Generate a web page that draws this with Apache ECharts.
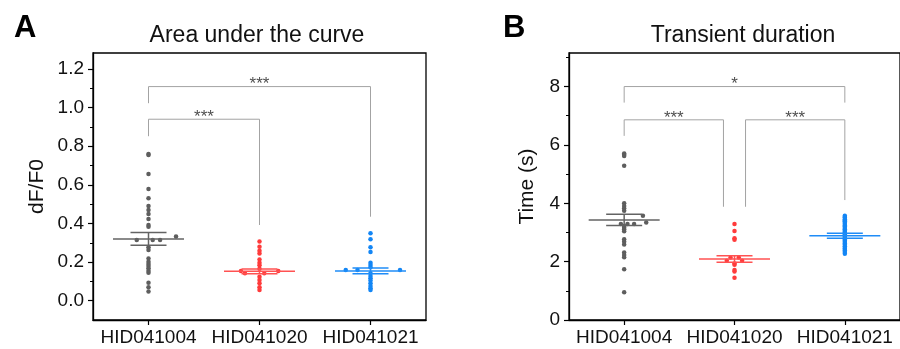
<!DOCTYPE html>
<html><head><meta charset="utf-8">
<script src="https://cdn.jsdelivr.net/npm/echarts@6/dist/echarts.min.js"></script>
<style>html,body{margin:0;padding:0;background:#fff}#c{width:900px;height:349px}</style>
</head><body><div id="c"></div>
<script>
// ---------- DATA ----------
const categories = ['HID041004', 'HID041020', 'HID041021'];

// Panel A: Area under the curve (dF/F0)
const aucHID041004 = [0.760, 0.755, 0.656, 0.579, 0.530, 0.490, 0.470, 0.449, 0.423, 0.392, 0.383, 0.277, 0.263, 0.218, 0.202, 0.190, 0.180, 0.168, 0.155, 0.145, 0.093, 0.069, 0.047, 0.314, 0.314, 0.314, 0.332];
const aucHID041004Jitter = [0,0,0,0,0,0,0,0,0,0,0,0,0,0,0,0,0,0,0,0,0,0,0, -0.106, 0.038, 0.104, 0.248];
const aucHID041020 = [0.306, 0.280, 0.259, 0.245, 0.214, 0.197, 0.184, 0.165, 0.124, 0.107, 0.090, 0.069, 0.055, 0.154, 0.154, 0.142, 0.142];
const aucHID041020Jitter = [0,0,0,0,0,0,0,0,0,0,0,0,0, -0.167, 0.169, -0.131, 0.043];
const aucHID041021 = [0.349, 0.318, 0.277, 0.252, 0.197, 0.185, 0.173, 0.142, 0.128, 0.116, 0.104, 0.090, 0.076, 0.064, 0.055, 0.159, 0.159, 0.159];
const aucHID041021Jitter = [0,0,0,0,0,0,0,0,0,0,0,0,0,0,0, -0.223, -0.117, 0.266];
const aucMean = [0.320, 0.152, 0.154];
const aucSem = [0.033, 0.012, 0.015];
const aucTicks = [0.0, 0.2, 0.4, 0.6, 0.8, 1.0, 1.2];
const aucMinorTicks = [0.1, 0.3, 0.5, 0.7, 0.9, 1.1];
const aucBrackets = [
  {from: 0, to: 1, top: 0.94, leftEnd: 0.852, rightEnd: 0.392, label: '***'},
  {from: 0, to: 2, top: 1.109, leftEnd: 1.023, rightEnd: 0.435, label: '***'}
];

// Panel B: Transient duration (s)
const durHID041004 = [5.71, 5.66, 5.62, 5.29, 4.00, 3.91, 3.83, 3.74, 3.22, 3.16, 3.11, 3.04, 2.77, 2.68, 2.59, 2.31, 2.23, 2.15, 1.74, 0.95, 3.57, 3.34, 3.29, 3.29, 3.29];
const durHID041004Jitter = [0,0,0,0,0,0,0,0,0,0,0,0,0,0,0,0,0,0,0,0, 0.17, 0.20, -0.03, 0.03, 0.09];
const durHID041020 = [3.29, 3.05, 2.80, 2.75, 1.94, 1.89, 1.71, 1.66, 1.45, 2.14, 2.14, 2.03, 2.03];
const durHID041020Jitter = [0,0,0,0,0,0,0,0,0, -0.036, 0.039, -0.07, 0.069];
const durHID041021 = [3.57, 3.53, 3.50, 3.45, 3.41, 3.38, 3.33, 3.29, 3.24, 3.20, 3.15, 3.11, 3.06, 3.02, 2.98, 2.93, 2.90, 2.85, 2.81, 2.76, 2.72, 2.67, 2.62, 2.58, 2.53, 2.47, 2.43, 2.38, 2.33, 2.27];
const durHID041021Jitter = durHID041021.map(() => 0);
const durMean = [3.43, 2.09, 2.89];
const durSem = [0.19, 0.11, 0.085];
const durTicks = [0, 2, 4, 6, 8];
const durMinorTicks = [1, 3, 5, 7, 9];
const durBrackets = [
  {from: 0, to: 2, top: 8.0, leftEnd: 7.45, rightEnd: 7.45, label: '*'},
  {from: 0, to: 0.9, top: 6.86, leftEnd: 6.31, rightEnd: 3.88, label: '***'},
  {from: 1.1, to: 2, top: 6.86, leftEnd: 3.88, rightEnd: 4.11, label: '***'}
];

// ---------- STYLE ----------
const FONT = '"Liberation Sans", Arial, sans-serif';
const dotColors = ['#5e5e5e', '#ff3b3b', '#1386f5'];
const lineColors = ['#636363', '#ff5252', '#1f8cf7'];
const AX = '#000';

function yAxes(gi, min, max, ticks, minor, fmt, name, nameGap) {
  return [
    {type: 'value', gridIndex: gi, min: min, max: max, position: 'left',
     axisLine: {show: true, onZero: false, lineStyle: {color: AX, width: 1.3}},
     axisTick: {show: true, length: 5, inside: false, customValues: ticks, lineStyle: {color: AX, width: 1.2}},
     axisLabel: {customValues: ticks, formatter: fmt, fontSize: 19, color: '#111', margin: 9, fontFamily: FONT},
     splitLine: {show: false},
     name: name, nameLocation: 'middle', nameGap: nameGap,
     nameTextStyle: {fontSize: 21, color: '#111', fontFamily: FONT}},
    {type: 'value', gridIndex: gi, min: min, max: max, position: 'left',
     axisLine: {show: false, onZero: false},
     axisTick: {show: true, length: 3, inside: false, customValues: minor, lineStyle: {color: AX, width: 1}},
     axisLabel: {show: false}, splitLine: {show: false}}
  ];
}
function xAxes(gi) {
  return [
    {type: 'category', gridIndex: gi, data: categories, boundaryGap: true, position: 'bottom',
     axisLine: {show: true, onZero: false, lineStyle: {color: AX, width: 1.3}},
     axisTick: {show: true, alignWithLabel: true, length: 5, lineStyle: {color: AX, width: 1.2}},
     axisLabel: {interval: 0, fontSize: 19, color: '#111', margin: 8, fontFamily: FONT},
     splitLine: {show: false}},
    {type: 'value', gridIndex: gi, min: -0.5, max: 2.5, show: false, position: 'bottom',
     axisLine: {show: false, onZero: false}, splitLine: {show: false}}
  ];
}

function panelSeries(xi, yi, groups, jitters, means, sems, brackets) {
  const s = [];
  brackets.forEach(b => {
    s.push({type: 'line', xAxisIndex: xi, yAxisIndex: yi, silent: true, symbol: 'none', animation: false,
      data: [[b.from, b.leftEnd], [b.from, b.top], [b.to, b.top], [b.to, b.rightEnd]],
      lineStyle: {color: '#a3a3a3', width: 1}, z: 1});
    s.push({type: 'scatter', xAxisIndex: xi, yAxisIndex: yi, silent: true, symbolSize: 0, animation: false,
      data: [{value: [(b.from + b.to) / 2, b.top], name: b.label}],
      label: {show: true, position: 'inside', offset: [0, -2], formatter: '{b}', fontSize: 17, color: '#222', fontFamily: FONT}, z: 2});
  });
  groups.forEach((vals, g) => {
    s.push({type: 'scatter', xAxisIndex: xi, yAxisIndex: yi, symbol: 'circle', symbolSize: 4.5, animation: false,
      data: vals.map((v, k) => [g + jitters[g][k], v]),
      itemStyle: {color: dotColors[g], opacity: 1}, z: 3});
  });
  s.push({type: 'custom', xAxisIndex: xi, yAxisIndex: yi, animation: false, z: 4,
    data: means.map((m, g) => [g, m, sems[g]]),
    encode: {x: 0, y: 1},
    renderItem: function (params, api) {
      const g = api.value(0), m = api.value(1), e = api.value(2);
      const c = api.coord([g, m]), u = api.coord([g, m + e]), l = api.coord([g, m - e]);
      const st = {stroke: lineColors[g], lineWidth: 1.5};
      return {type: 'group', children: [
        {type: 'line', shape: {x1: c[0] - 35.5, y1: c[1], x2: c[0] + 35.5, y2: c[1]}, style: st},
        {type: 'line', shape: {x1: u[0] - 18, y1: u[1], x2: u[0] + 18, y2: u[1]}, style: st},
        {type: 'line', shape: {x1: l[0] - 18, y1: l[1], x2: l[0] + 18, y2: l[1]}, style: st},
        {type: 'line', shape: {x1: u[0], y1: u[1], x2: l[0], y2: l[1]}, style: st}
      ]};
    }});
  return s;
}

const chart = echarts.init(document.getElementById('c'), null, {renderer: 'canvas'});
const option = {
  backgroundColor: '#fff',
  animation: false,
  textStyle: {fontFamily: FONT},
  grid: [
    {left: 93, top: 53, width: 333, height: 267, show: true, borderColor: AX, borderWidth: 1.3, backgroundColor: 'transparent'},
    {left: 569, top: 53, width: 332, height: 267, show: true, borderColor: AX, borderWidth: 1.3, backgroundColor: 'transparent'}
  ],
  xAxis: [...xAxes(0), ...xAxes(1)],
  yAxis: [
    ...yAxes(0, -0.1, 1.283, aucTicks, aucMinorTicks, v => Number(v).toFixed(1), 'dF/F0', 45),
    ...yAxes(1, 0, 9.15, durTicks, durMinorTicks, v => String(v), 'Time (s)', 31)
  ],
  graphic: [
    {type: 'text', x: 14, y: 28, style: {text: 'A', font: 'bold 31px ' + FONT, fill: '#000', align: 'left', verticalAlign: 'middle'}},
    {type: 'text', x: 503, y: 28, style: {text: 'B', font: 'bold 31px ' + FONT, fill: '#000', align: 'left', verticalAlign: 'middle'}},
    {type: 'text', x: 257, y: 36, style: {text: 'Area under the curve', font: '23px ' + FONT, fill: '#111', align: 'center', verticalAlign: 'middle'}},
    {type: 'text', x: 743, y: 36, style: {text: 'Transient duration', font: '23px ' + FONT, fill: '#111', align: 'center', verticalAlign: 'middle'}}
  ],
  series: [
    ...panelSeries(1, 0, [aucHID041004, aucHID041020, aucHID041021],
      [aucHID041004Jitter, aucHID041020Jitter, aucHID041021Jitter], aucMean, aucSem, aucBrackets),
    ...panelSeries(3, 2, [durHID041004, durHID041020, durHID041021],
      [durHID041004Jitter, durHID041020Jitter, durHID041021Jitter], durMean, durSem, durBrackets)
  ]
};
chart.setOption(option);
</script>
</body></html>
